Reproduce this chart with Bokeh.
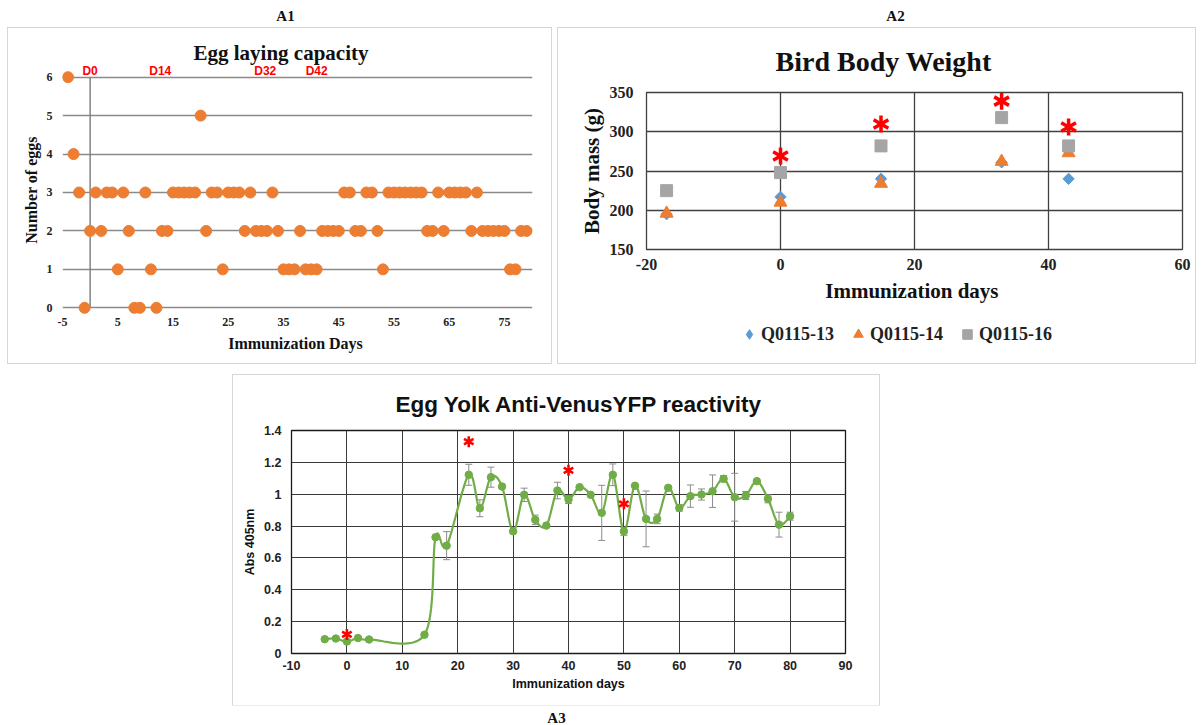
import math
import numpy as np
from bokeh.plotting import figure
from bokeh.models import (Range1d, FixedTicker, Label, Legend, LegendItem, Whisker,
                          ColumnDataSource, TeeHead, Spacer, Title)
from bokeh.layouts import column, row
from bokeh.embed import file_html
from bokeh.resources import INLINE

SERIF = "Liberation Serif"
SANS = "Liberation Sans"

# ---------------- A1 : egg laying capacity ----------------
egg_days = list(range(-4, 80))
egg_counts = [
    6, 4, 3, 0,                      # -4..-1
    2, 3, 2, 3, 3, 1, 3, 2, 0, 0,    # 0..9
    3, 1, 0, 2, 2, 3, 3, 3, 3, 3,    # 10..19
    5, 2, 3, 3, 1, 3, 3, 3, 2, 3,    # 20..29
    2, 2, 2, 3, 2, 1, 1, 1, 2, 1,    # 30..39
    1, 1, 2, 2, 2, 2, 3, 3, 2, 2,    # 40..49
    3, 3, 2, 1, 3, 3, 3, 3, 3, 3,    # 50..59
    3, 2, 2, 3, 2, 3, 3, 3, 3, 2,    # 60..69
    3, 2, 2, 2, 2, 2, 1, 1, 2, 2,    # 70..79
]
egg_xticks = [-5, 5, 15, 25, 35, 45, 55, 65, 75]
egg_yticks = [0, 1, 2, 3, 4, 5, 6]
dose_labels = ["D0", "D14", "D32", "D42"]
dose_label_x = [0, 12.7, 31.7, 41]
axis_cross_day = 0

# ---------------- A2 : bird body weight ----------------
bw_days = [-17, 0, 15, 33, 43]
bw_q13 = [195, 217, 240, 261, 240]
bw_q14 = [196, 210, 234, 262, 273]
bw_q16 = [225, 248, 282, 318, 282]
bw_names = ["Q0115-13", "Q0115-14", "Q0115-16"]
bw_sig_days = [0, 15, 33, 43]
bw_sig_y = [269, 310, 339, 306]
bw_xticks = [-20, 0, 20, 40, 60]
bw_yticks = [150, 200, 250, 300, 350]

# ---------------- A3 : anti-VenusYFP reactivity ----------------
ab_days = [-4, -2, 0, 2, 4, 14, 16, 18, 22, 24, 26, 28, 30, 32, 34, 36, 38, 40, 42, 44,
           46, 48, 50, 52, 54, 56, 58, 60, 62, 64, 66, 68, 70, 72, 74, 76, 78, 80]
ab_vals = [0.090, 0.094, 0.075, 0.097, 0.088, 0.118, 0.730, 0.677, 1.122, 0.912,
           1.107, 1.048, 0.767, 0.996, 0.839, 0.803, 1.023, 0.967, 1.044, 0.996,
           0.883, 1.122, 0.767, 1.053, 0.845, 0.845, 1.040, 0.914, 0.988, 0.998,
           1.019, 1.097, 0.981, 0.992, 1.082, 0.971, 0.809, 0.862]
ab_err = [0, 0, 0, 0, 0, 0, 0, 0.088, 0.066, 0.053,
          0.063, 0, 0, 0.042, 0.03, 0, 0.052, 0.025, 0, 0,
          0.173, 0.068, 0.025, 0, 0.175, 0.03, 0, 0.02, 0.07, 0.035,
          0.102, 0.02, 0.15, 0.025, 0, 0.025, 0.078, 0.025]
ab_sig_days = [0, 22, 40, 50]
ab_sig_y = [0.12, 1.33, 1.15, 0.94]
ab_xticks = [-10, 0, 10, 20, 30, 40, 50, 60, 70, 80, 90]
ab_yticks = [0, 0.2, 0.4, 0.6, 0.8, 1.0, 1.2, 1.4]

PANEL_STYLE = {"box-shadow": "0 0 0 1px #d6d6d6"}

BLUE, ORANGE, GREY, GREEN = "#5b9bd5", "#ed7d31", "#a5a5a5", "#70ad47"


def base_axes(p, font, tick_size, label_size, tick_standoff_x, tick_standoff_y,
              label_standoff_x, label_standoff_y):
    for ax in (p.xaxis[0], p.yaxis[0]):
        ax.axis_line_color = None
        ax.major_tick_line_color = None
        ax.minor_tick_line_color = None
        ax.major_tick_out = 0
        ax.major_tick_in = 0
        ax.minor_tick_out = 0
        ax.major_label_text_font = font
        ax.major_label_text_font_style = "bold"
        ax.major_label_text_font_size = tick_size
        ax.major_label_text_color = "#222222"
        ax.axis_label_text_font = font
        ax.axis_label_text_font_style = "bold"
        ax.axis_label_text_font_size = label_size
        ax.axis_label_text_color = "#111111"
    p.xaxis[0].major_label_standoff = tick_standoff_x
    p.yaxis[0].major_label_standoff = tick_standoff_y
    p.xaxis[0].axis_label_standoff = label_standoff_x
    p.yaxis[0].axis_label_standoff = label_standoff_y


def hyphen_minus(ticks):
    return {t: str(t).replace(".0", "") for t in ticks if t < 0}


def asterisks(p, xs, ys, size, width):
    for ang in (math.pi / 2, math.pi / 6, -math.pi / 6):
        p.scatter(xs, ys, marker="dash", size=size, angle=ang,
                  line_color="#ff0000", line_width=width)


def make_title(text, font, size, offset, standoff):
    t = Title(text=text, align="left", text_font=font, text_font_style="bold",
              text_font_size=size, text_color="#111111", offset=offset)
    if "standoff" in t.properties():
        t.standoff = standoff
    return t


def smooth(xs, ys, n=24):
    P = np.column_stack([np.asarray(xs, float), np.asarray(ys, float)])
    out = [P[0]]
    t = np.linspace(0, 1, n)[1:, None]
    for i in range(len(P) - 1):
        p0 = P[max(i - 1, 0)]
        p1 = P[i]
        p2 = P[i + 1]
        p3 = P[min(i + 2, len(P) - 1)]
        c1 = p1 + (p2 - p0) / 6.0
        c2 = p2 - (p3 - p1) / 6.0
        seg = (1 - t) ** 3 * p1 + 3 * (1 - t) ** 2 * t * c1 + 3 * (1 - t) * t ** 2 * c2 + t ** 3 * p2
        out.extend(seg)
    arr = np.array(out)
    return arr[:, 0], arr[:, 1]


# ======================= A1 =======================
p1 = figure(width=543, height=335, x_range=Range1d(-5, 80.07), y_range=Range1d(-0.2, 6.33),
            output_backend="svg", toolbar_location=None, title=None,
            min_border_left=54, min_border_right=19, min_border_top=36, min_border_bottom=48,
            x_axis_label="Immunization  Days", y_axis_label="Number of eggs")
p1.styles = PANEL_STYLE
p1.outline_line_color = None
p1.xaxis.ticker = FixedTicker(ticks=egg_xticks)
p1.yaxis.ticker = FixedTicker(ticks=egg_yticks)
p1.xaxis.major_label_overrides = hyphen_minus(egg_xticks)
p1.xgrid.grid_line_color = None
p1.ygrid.ticker = FixedTicker(ticks=egg_yticks)
p1.ygrid.grid_line_color = "#8a8a8a"
p1.ygrid.grid_line_width = 1.4
base_axes(p1, SERIF, "12px", "16px", 2, 10, 6, 4)
p1.segment(x0=[axis_cross_day], y0=[min(egg_yticks)], x1=[axis_cross_day], y1=[max(egg_yticks)],
           line_color="#7a7a7a", line_width=1.4)
p1.scatter(egg_days, egg_counts, size=11, color=ORANGE)
for lab, lx in zip(dose_labels, dose_label_x):
    p1.add_layout(Label(x=lx, y=6.17, text=lab, text_font=SANS, text_font_style="bold",
                        text_font_size="12px", text_color="#ff0000",
                        text_align="center", text_baseline="middle"))
p1.add_layout(make_title("Egg laying capacity", SERIF, "21px", 131, 0), "above")

# ======================= A2 =======================
p2 = figure(width=637, height=290, x_range=Range1d(-20, 60), y_range=Range1d(150, 350),
            output_backend="svg", toolbar_location=None, title=None,
            min_border_left=88, min_border_right=13, min_border_top=64, min_border_bottom=69,
            x_axis_label="Immunization  days", y_axis_label="Body mass (g)")
p2.outline_line_color = "#404040"
p2.outline_line_width = 1.3
p2.xaxis.ticker = FixedTicker(ticks=bw_xticks)
p2.yaxis.ticker = FixedTicker(ticks=bw_yticks)
p2.xaxis.major_label_overrides = hyphen_minus(bw_xticks)
p2.xgrid.ticker = FixedTicker(ticks=bw_xticks)
p2.ygrid.ticker = FixedTicker(ticks=bw_yticks)
for g in (p2.xgrid[0], p2.ygrid[0]):
    g.grid_line_color = "#404040"
    g.grid_line_width = 1.3
base_axes(p2, SERIF, "16px", "21px", 9, 13, 6, 3)
marker_styles = [dict(marker="square", angle=math.pi / 4, size=8, color=BLUE),
                 dict(marker="triangle", size=13, color=ORANGE),
                 dict(marker="square", size=12, color=GREY)]
bw_series = [bw_q13, bw_q14, bw_q16]
for vals, st in zip(bw_series, marker_styles):
    p2.scatter(bw_days, vals, **st)
asterisks(p2, bw_sig_days, bw_sig_y, 17, 3.5)
p2.add_layout(make_title("Bird Body Weight", SERIF, "28px", 129, 31), "above")

# legend strip of the A2 panel (its own ranges keep the series out of view;
# the renderers only supply the legend swatches; the legend ignores marker
# angles, so the diamond swatch uses the diamond marker)
legend_styles = [dict(marker="diamond", color=BLUE),
                 dict(marker="triangle", color=ORANGE),
                 dict(marker="square", color=GREY)]
p2_leg = figure(width=637, height=45, x_range=Range1d(1000, 1001), y_range=Range1d(1000, 1001),
                x_axis_location=None, y_axis_location=None, min_border=0,
                output_backend="svg", toolbar_location=None, title=None)
p2_leg.outline_line_color = None
p2_leg.xgrid.visible = False
p2_leg.ygrid.visible = False
leg_renderers = [p2_leg.scatter(bw_days, vals, **st) for vals, st in zip(bw_series, legend_styles)]
legend = Legend(items=[LegendItem(label=n, renderers=[r]) for n, r in zip(bw_names, leg_renderers)],
                orientation="horizontal", location=(91, 16),
                border_line_color=None, background_fill_alpha=0,
                label_text_font=SERIF, label_text_font_style="bold",
                label_text_font_size="18px", label_text_color="#222222",
                glyph_width=24, glyph_height=26, label_standoff=0, spacing=12,
                padding=0, margin=0)
p2_leg.add_layout(legend)
panel2 = column(p2, p2_leg)
panel2.styles = PANEL_STYLE

# ======================= A3 =======================
p3 = figure(width=646, height=330, x_range=Range1d(-10, 90), y_range=Range1d(0, 1.4),
            output_backend="svg", toolbar_location=None, title=None,
            min_border_left=58, min_border_right=34, min_border_top=55, min_border_bottom=52,
            x_axis_label="Immunization days", y_axis_label="Abs 405nm")
p3.styles = PANEL_STYLE
p3.outline_line_color = "#1a1a1a"
p3.outline_line_width = 1.3
p3.xaxis.ticker = FixedTicker(ticks=ab_xticks)
p3.yaxis.ticker = FixedTicker(ticks=ab_yticks)
p3.xgrid.ticker = FixedTicker(ticks=ab_xticks)
p3.ygrid.ticker = FixedTicker(ticks=ab_yticks)
p3.yaxis.major_label_overrides = {0: "0", 1.0: "1"}
p3.xaxis.major_label_overrides = hyphen_minus(ab_xticks)
for g in (p3.xgrid[0], p3.ygrid[0]):
    g.grid_line_color = "#3a3a3a"
    g.grid_line_width = 1
base_axes(p3, SANS, "12.5px", "12.5px", 7, 10, 4, 4)
err_idx = [i for i, e in enumerate(ab_err) if e > 0]
err_src = ColumnDataSource(dict(
    base=[ab_days[i] for i in err_idx],
    upper=[ab_vals[i] + ab_err[i] for i in err_idx],
    lower=[ab_vals[i] - ab_err[i] for i in err_idx]))
p3.add_layout(Whisker(base="base", upper="upper", lower="lower", source=err_src,
                      line_color="#8c8c8c", line_width=1, level="underlay",
                      upper_head=TeeHead(size=7, line_color="#8c8c8c", line_width=1),
                      lower_head=TeeHead(size=7, line_color="#8c8c8c", line_width=1)))
sx, sy = smooth(ab_days, ab_vals)
p3.line(sx, sy, line_color=GREEN, line_width=2.2)
p3.scatter(ab_days, ab_vals, size=7.5, color=GREEN)
asterisks(p3, ab_sig_days, ab_sig_y, 11, 2.6)
p3.add_layout(make_title("Egg Yolk Anti-VenusYFP reactivity", SANS, "22.5px", 104, 28), "above")

# ======================= panel tags =======================
def tag_strip(h, tags):
    f = figure(width=1203, height=h, x_range=Range1d(0, 1203), y_range=Range1d(0, h),
               x_axis_location=None, y_axis_location=None, min_border=0,
               output_backend="svg", toolbar_location=None, title=None)
    f.outline_line_color = None
    f.xgrid.visible = False
    f.ygrid.visible = False
    for txt, x, y in tags:
        f.add_layout(Label(x=x, y=y, text=txt, text_font=SERIF, text_font_style="bold",
                           text_font_size="15px", text_color="#111111",
                           text_align="center", text_baseline="middle"))
    return f


header = tag_strip(28, [("A1", 285, 13), ("A2", 895, 13)])
footer = tag_strip(20, [("A3", 556, 8)])

layout = column(
    header,
    row(Spacer(width=8, height=335), p1, Spacer(width=7, height=335), panel2),
    Spacer(width=1203, height=12),
    row(Spacer(width=233, height=330), p3),
    footer,
)

open("out.html", "w").write(file_html(layout, INLINE))
